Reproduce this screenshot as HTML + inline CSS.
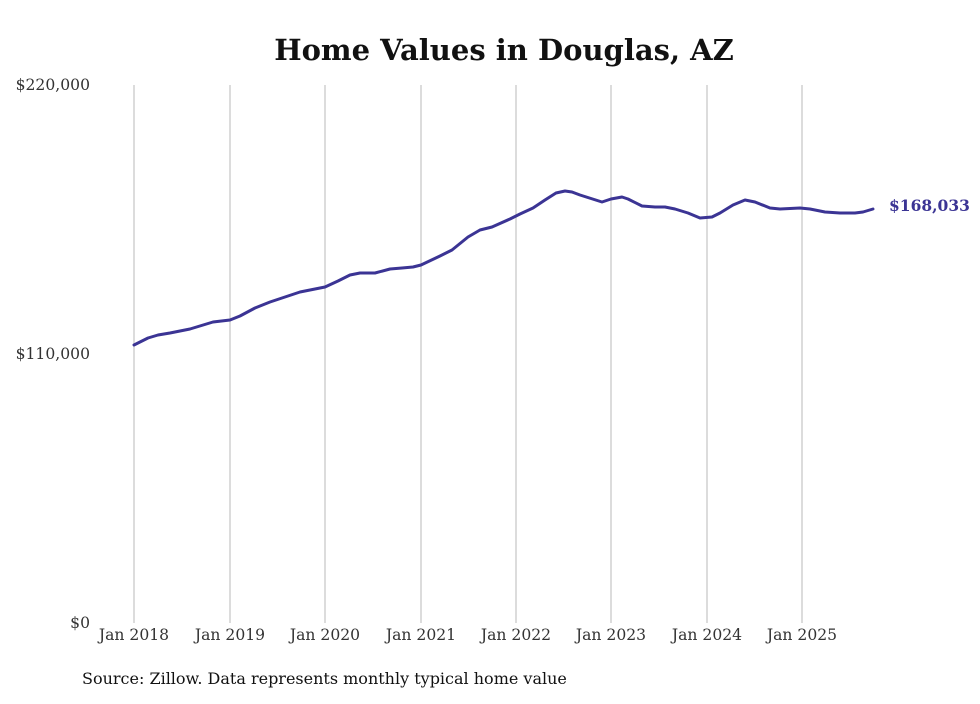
<!DOCTYPE html><html><head><style>body{margin:0;background:#fff}</style></head><body>
<svg width="980" height="699" xmlns="http://www.w3.org/2000/svg" style="font-family:'DejaVu Serif',serif">
<rect width="980" height="699" fill="#fff"/>
<text x="504" y="60" text-anchor="middle" font-size="29" font-weight="bold" fill="#111">Home Values in Douglas, AZ</text>
<g stroke="#c4c4c4" stroke-width="1.2">
<line x1="134" y1="85" x2="134" y2="623"/><line x1="230" y1="85" x2="230" y2="623"/><line x1="325" y1="85" x2="325" y2="623"/><line x1="421" y1="85" x2="421" y2="623"/><line x1="516" y1="85" x2="516" y2="623"/><line x1="611" y1="85" x2="611" y2="623"/><line x1="707" y1="85" x2="707" y2="623"/><line x1="802" y1="85" x2="802" y2="623"/>
</g>
<g font-size="15.6" fill="#333">
<text x="90" y="90" text-anchor="end">$220,000</text>
<text x="90" y="359" text-anchor="end">$110,000</text>
<text x="90" y="628" text-anchor="end">$0</text>
</g>
<g font-size="15.6" fill="#333" text-anchor="middle">
<text x="134" y="640">Jan 2018</text><text x="230" y="640">Jan 2019</text><text x="325" y="640">Jan 2020</text><text x="421" y="640">Jan 2021</text><text x="516" y="640">Jan 2022</text><text x="611" y="640">Jan 2023</text><text x="707" y="640">Jan 2024</text><text x="802" y="640">Jan 2025</text>
</g>
<polyline fill="none" stroke="#3b3494" stroke-width="3" stroke-linejoin="round" stroke-linecap="round" points="134,345 148,338 158,335 170,333 190,329 213,322 230,320 240,316 255,308 270,302 285,297 300,292 315,289 325,287 338,281 350,275 360,273 375,273 390,269 402,268 413,267 421,265 440,256 452,250 468,237 480,230 492,227 510,219 520,214 533,208 545,200 556,193 565,191 572,192 580,195 602,202 611,199 622,197 628,199 642,206 655,207 665,207 675,209 688,213 700,218 712,217 720,213 733,205 745,200 755,202 770,208 780,209 800,208 810,209 825,212 840,213 855,213 863,212 873,209"/>
<text x="889" y="211" font-size="15.5" font-weight="bold" fill="#3b3494">$168,033</text>
<text x="82" y="684" font-size="16" fill="#111">Source: Zillow. Data represents monthly typical home value</text>
</svg></body></html>
